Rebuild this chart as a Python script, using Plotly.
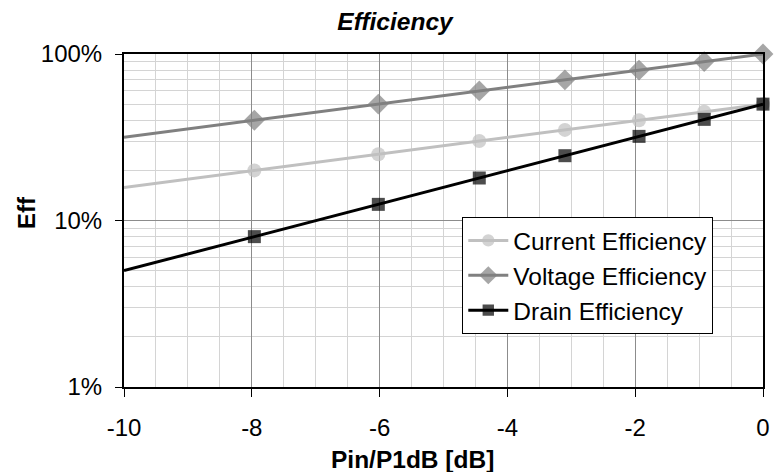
import plotly.graph_objects as go

# Data (x in dB, efficiencies as fractions)
pin_db = [-10.0, -7.96, -6.02, -4.44, -3.10, -1.94, -0.92, 0.0]
current_eff = [0.158, 0.20, 0.25, 0.30, 0.35, 0.40, 0.45, 0.50]
voltage_eff = [0.316, 0.40, 0.50, 0.60, 0.70, 0.80, 0.90, 1.00]
drain_eff = [0.050, 0.080, 0.125, 0.180, 0.245, 0.320, 0.405, 0.500]
series_names = ["Current Efficiency", "Voltage Efficiency", "Drain Efficiency"]
show_marker = [False, True, True, True, True, True, True, True]
x_tickvals = [-10, -8, -6, -4, -2, 0]
x_ticktext = ["-10", "-8", "-6", "-4", "-2", "0"]
y_tickvals = [0.01, 0.1, 1]
y_ticktext = ["1%", "10%", "100%"]

FONT = "Liberation Sans, Arial, sans-serif"
FS = 24

styles = [
    dict(color="#c0c0c0", symbol="circle", size=14),
    dict(color="#808080", symbol="diamond", size=16),
    dict(color="#000000", symbol="square", size=13),
]

fig = go.Figure()
for name, vals, st in zip(series_names, [current_eff, voltage_eff, drain_eff], styles):
    sizes = [st["size"] if m else 0 for m in show_marker]
    fig.add_trace(go.Scatter(
        x=pin_db, y=vals, name=name, mode="lines+markers",
        line=dict(color=st["color"], width=3),
        marker=dict(symbol=st["symbol"], size=sizes, color=st["color"],
                    line=dict(width=0)),
        cliponaxis=False,
    ))

pl, pt, pw, ph = 124, 54, 646, 333

fig.update_layout(
    width=775, height=472,
    margin=dict(l=pl, r=775 - pl - pw, t=pt, b=472 - pt - ph),
    paper_bgcolor="white", plot_bgcolor="white",
    font=dict(family=FONT, size=FS, color="black"),
    title=dict(text="<b><i>Efficiency</i></b>", x=395/775, xanchor="center",
               y=1 - 21/472, yanchor="middle", font=dict(size=FS + 0.5)),
    showlegend=True,
    legend=dict(x=(466 - pl) / pw, y=(387 - 217) / ph, xanchor="left", yanchor="top",
                bgcolor="white", bordercolor="black", borderwidth=1,
                font=dict(size=FS + 0.5), tracegroupgap=0, itemwidth=40),
    xaxis=dict(range=[-10, 0], tickvals=x_tickvals, ticktext=x_ticktext,
               showgrid=True, gridcolor="#8c8c8c", gridwidth=1,
               showline=True, linecolor="black", linewidth=2, mirror=True,
               ticks="outside", ticklen=8, tickcolor="black",
               minor=dict(dtick=0.5, showgrid=True, gridcolor="#d4d4d4", gridwidth=1),
               zeroline=False, ticklabelstandoff=10),
    yaxis=dict(type="log", range=[-2, 0],
               tickvals=y_tickvals, ticktext=y_ticktext,
               showgrid=True, gridcolor="#8c8c8c", gridwidth=1,
               showline=True, linecolor="black", linewidth=2, mirror=True,
               ticks="outside", ticklen=7, tickcolor="black",
               minor=dict(dtick="D1", showgrid=True, gridcolor="#d4d4d4", gridwidth=1),
               zeroline=False, ticklabelstandoff=8),
    annotations=[
        dict(text="<b>Pin/P1dB [dB]</b>", x=(416 - pl) / pw, y=(387 - 459) / ph,
             xref="paper", yref="paper", showarrow=False,
             xanchor="center", yanchor="middle", font=dict(size=FS + 0.5)),
        dict(text="<b>Eff</b>", x=(25 - pl) / pw, y=(387 - 213) / ph, textangle=-90,
             xref="paper", yref="paper", showarrow=False,
             xanchor="center", yanchor="middle", font=dict(size=FS)),
    ],
)

fig.write_html("out.html")
